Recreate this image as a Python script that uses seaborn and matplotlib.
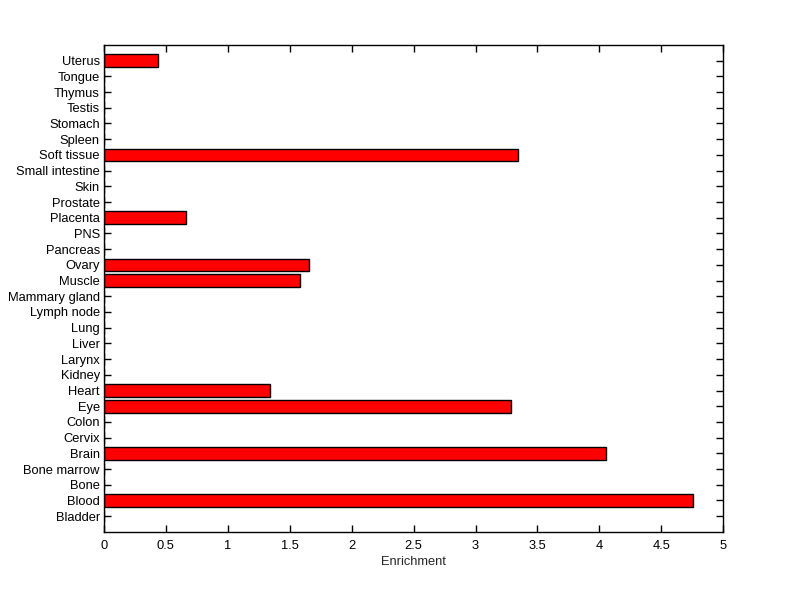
import matplotlib
matplotlib.use("Agg")
import matplotlib.pyplot as plt
import seaborn as sns
import pandas as pd

tissues = ["Bladder", "Blood", "Bone", "Bone marrow", "Brain", "Cervix", "Colon", "Eye",
           "Heart", "Kidney", "Larynx", "Liver", "Lung", "Lymph node", "Mammary gland",
           "Muscle", "Ovary", "Pancreas", "PNS", "Placenta", "Prostate", "Skin",
           "Small intestine", "Soft tissue", "Spleen", "Stomach", "Testis", "Thymus",
           "Tongue", "Uterus"]
enrichment = [0, 4.758, 0, 0, 4.056, 0, 0, 3.29,
              1.339, 0, 0, 0, 0, 0, 0,
              1.581, 1.653, 0, 0, 0.66, 0, 0,
              0, 3.339, 0, 0, 0, 0,
              0, 0.435]
x_ticks = [0, 0.5, 1, 1.5, 2, 2.5, 3, 3.5, 4, 4.5, 5]
x_tick_labels = ["0", "0.5", "1", "1.5", "2", "2.5", "3", "3.5", "4", "4.5", "5"]

df = pd.DataFrame({"Tissue": tissues, "Enrichment": enrichment})
order = tissues[::-1]

sns.set_theme(style="white")
plt.rcParams["font.family"] = ["Liberation Sans", "DejaVu Sans"]

fig = plt.figure(figsize=(8.0, 5.99), dpi=100)
ax = fig.add_axes([0.13, 0.112, 0.774, 0.813])

sns.barplot(data=df, x="Enrichment", y="Tissue", order=order, orient="h",
            color="#ff0000", saturation=1, width=0.8, edgecolor="black",
            linewidth=1.0, ax=ax)

ax.set_xlim(0, 5)
ax.set_ylim(len(tissues), -1)
ax.set_xticks(x_ticks)
ax.set_xticklabels(x_tick_labels)
ax.set_xlabel("Enrichment", fontsize=9.3, labelpad=3)
ax.set_ylabel("")

for s in ax.spines.values():
    s.set_color("black")
    s.set_linewidth(1.0)
    s.set_visible(True)

ax.tick_params(axis="both", which="major", direction="in", length=5, width=1,
               color="black", labelsize=9.3, labelcolor="black",
               top=True, right=True, bottom=True, left=True)
ax.tick_params(axis="x", pad=6)
ax.tick_params(axis="y", pad=3)

fig.savefig("out.png", dpi=100, facecolor="white")
